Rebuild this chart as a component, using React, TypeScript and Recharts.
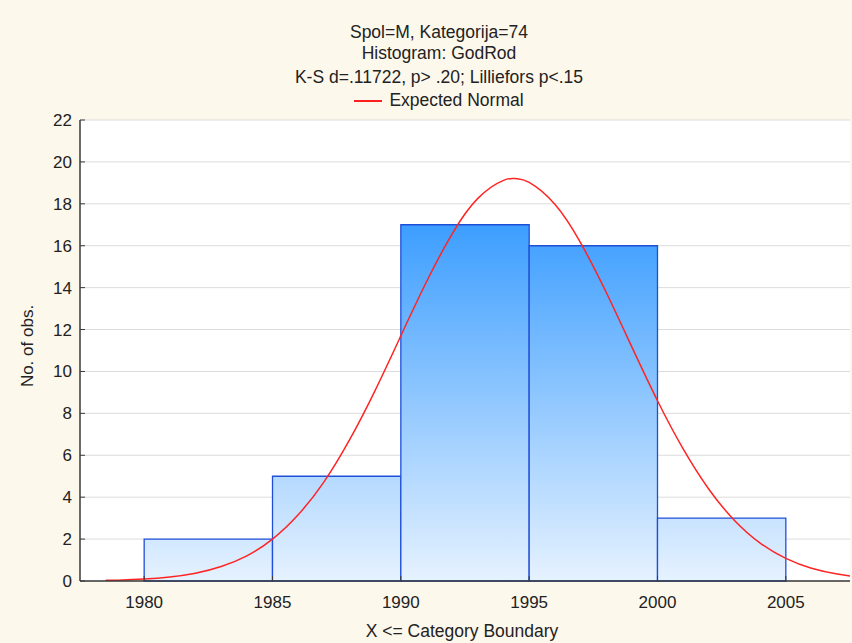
import {
  CartesianGrid,
  ComposedChart,
  Line,
  ReferenceArea,
  XAxis,
  YAxis,
} from "recharts";

const binStart = [1980, 1985, 1990, 1995, 2000];
const binEnd = [1985, 1990, 1995, 2000, 2005];
const counts = [2, 5, 17, 16, 3];

const curveYears = [
  1978.5, 1979, 1980, 1981, 1982, 1983, 1984, 1985, 1986, 1987, 1988, 1989, 1990,
  1991, 1992, 1993, 1994, 1994.5, 1995, 1996, 1997, 1998, 1999, 2000, 2001, 2002,
  2003, 2004, 2005, 2006, 2007, 2007.5,
];
const curveValues = [
  0.03, 0.04, 0.09, 0.19, 0.37, 0.69, 1.2, 2.0, 3.16, 4.72, 6.73, 9.1, 11.7,
  14.28, 16.57, 18.26, 19.12, 19.2, 19.02, 17.98, 16.15, 13.78, 11.17, 8.6, 6.3,
  4.38, 2.89, 1.81, 1.08, 0.61, 0.33, 0.24,
];

const xTicks = [1980, 1985, 1990, 1995, 2000, 2005];
const yTicks = [0, 2, 4, 6, 8, 10, 12, 14, 16, 18, 20, 22];

const titleLines = [
  "Spol=M, Kategorija=74",
  "Histogram: GodRod",
  "K-S d=.11722, p> .20; Lilliefors p<.15",
];

const curve = curveYears.map((x, i) => ({ x, y: curveValues[i] }));

const FONT = '"Liberation Sans", Arial, sans-serif';
const AXIS = "#3a3a3a";
const tickStyle = { fontSize: 17, fill: "#222", fontFamily: FONT };

export default function App() {
  return (
    <div
      style={{
        position: "fixed",
        left: 0,
        top: 0,
        width: 852,
        height: 643,
        background: "#fdf8ec",
        fontFamily: FONT,
        color: "#222",
        overflow: "hidden",
      }}
    >
      {titleLines.map((t, i) => (
        <div
          key={i}
          style={{
            position: "absolute",
            left: 39,
            width: 800,
            top: [22, 43, 67][i],
            textAlign: "center",
            fontSize: 17.5,
            lineHeight: "20px",
          }}
        >
          {t}
        </div>
      ))}
      <div
        style={{
          position: "absolute",
          left: 39,
          width: 800,
          top: 90,
          textAlign: "center",
          fontSize: 17.5,
          lineHeight: "20px",
        }}
      >
        <span
          style={{
            display: "inline-block",
            width: 28,
            height: 0,
            borderTop: "2px solid #ff2020",
            verticalAlign: "middle",
            marginRight: 7,
          }}
        />
        Expected Normal
      </div>
      <div
        style={{
          position: "absolute",
          left: 28,
          top: 346,
          transform: "translate(-50%, -50%) rotate(-90deg)",
          whiteSpace: "nowrap",
          fontSize: 17,
        }}
      >
        No. of obs.
      </div>
      <div
        style={{
          position: "absolute",
          left: 62,
          width: 800,
          top: 621,
          textAlign: "center",
          fontSize: 17.5,
          lineHeight: "20px",
        }}
      >
        X &lt;= Category Boundary
      </div>

      <ComposedChart
        width={852}
        height={643}
        data={curve}
        margin={{ top: 120, right: 2, bottom: 32, left: 20 }}
        style={{ position: "absolute", left: 0, top: 0 }}
      >
        <defs>
          <linearGradient
            id="histFill"
            gradientUnits="userSpaceOnUse"
            x1="0"
            y1="204"
            x2="0"
            y2="581"
          >
            <stop offset="0%" stopColor="#3399ff" />
            <stop offset="100%" stopColor="#e6f2ff" />
          </linearGradient>
        </defs>
        <CartesianGrid
          vertical={false}
          stroke="#dcdcdc"
          fill="#ffffff"
          fillOpacity={1}
        />
        <XAxis
          dataKey="x"
          type="number"
          domain={[1977.5, 2007.5]}
          ticks={xTicks}
          allowDataOverflow
          tick={tickStyle}
          tickSize={-5}
          tickMargin={20}
          axisLine={{ stroke: AXIS, strokeWidth: 1.5 }}
          tickLine={{ stroke: AXIS }}
          height={30}
        />
        <XAxis
          xAxisId="top"
          orientation="top"
          dataKey="x"
          type="number"
          domain={[1977.5, 2007.5]}
          ticks={xTicks}
          allowDataOverflow
          tick={false}
          tickSize={5}
          mirror
          height={0}
          axisLine={{ stroke: AXIS, strokeWidth: 1.5 }}
          tickLine={{ stroke: AXIS }}
        />
        <YAxis
          type="number"
          domain={[0, 22]}
          ticks={yTicks}
          allowDataOverflow
          tick={tickStyle}
          tickSize={-5}
          tickMargin={13}
          width={60}
          axisLine={{ stroke: AXIS, strokeWidth: 1.5 }}
          tickLine={{ stroke: AXIS }}
        />
        <YAxis
          yAxisId="right"
          orientation="right"
          type="number"
          domain={[0, 22]}
          ticks={yTicks}
          allowDataOverflow
          tick={false}
          tickSize={5}
          mirror
          width={0}
          axisLine={{ stroke: AXIS, strokeWidth: 1.5 }}
          tickLine={{ stroke: AXIS }}
        />
        {counts.map((c, i) => (
          <ReferenceArea
            key={i}
            x1={binStart[i]}
            x2={binEnd[i]}
            y1={0}
            y2={c}
            fill="url(#histFill)"
            fillOpacity={1}
            stroke="#1f4fd8"
            strokeWidth={1.3}
            ifOverflow="visible"
          />
        ))}
        <Line
          dataKey="y"
          type="natural"
          stroke="#ff2424"
          strokeWidth={1.5}
          dot={false}
          activeDot={false}
          isAnimationActive={false}
        />
      </ComposedChart>
    </div>
  );
}
